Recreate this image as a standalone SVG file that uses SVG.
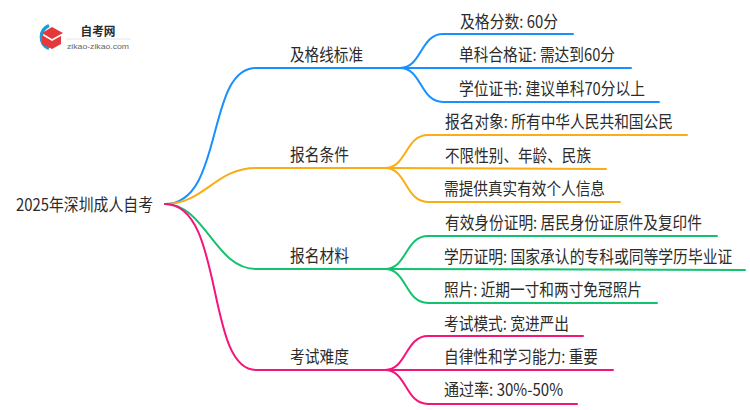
<svg xmlns="http://www.w3.org/2000/svg" width="750" height="410" viewBox="0 0 750 410">
<style>
text{font-family:"Noto Sans CJK SC","Liberation Sans",sans-serif;font-size:17px;fill:#2b2b2b}
.c{fill:none;stroke-width:2;stroke-linecap:round}
.b{stroke:#1890ff}.o{stroke:#faad14}.g{stroke:#13c26f}.p{stroke:#f5147a}
</style>
<rect width="750" height="410" fill="#fff"/>
<g id="logo">
<path d="M49 25.500A12.500 12.500 0 0 0 49 48.500" fill="none" stroke="#1a9ad6" stroke-width="3.500"/>
<path d="M52 27L63 33L52 39L42 33Z" fill="#e5383b"/>
<path d="M42 35L52 41L61 36V44L52 49L42 44Z" fill="#e5383b"/>
<text x="80.500" y="36" textLength="35" lengthAdjust="spacingAndGlyphs" style="font-size:12px;font-weight:700">自考网</text>
<path d="M66 39H131" stroke="#e6e6e6" stroke-width="1"/>
<text x="67" y="49" textLength="62" lengthAdjust="spacingAndGlyphs" style="font-family:'Liberation Sans',sans-serif;font-size:8px;fill:#666">zikao-zikao.com</text>
</g>
<g id="connectors">
<path class="c b" d="M165 204C225 204 205 68 256 68H400"/>
<path class="c o" d="M165 204C205 204 215 168 256 168H385"/>
<path class="c g" d="M165 204C205 204 215 269 256 269H385"/>
<path class="c p" d="M165 204C225 204 205 370 256 370H385"/>
<path class="c b" d="M400 68C422 68 420 34 443 34H573"/>
<path class="c b" d="M400 68H631"/>
<path class="c b" d="M400 68C422 68 420 102 443 102H659"/>
<path class="c o" d="M385 168C407 168 405 135 428 135H687"/>
<path class="c o" d="M385 168L606 169"/>
<path class="c o" d="M385 168C407 168 405 202 428 202H620"/>
<path class="c g" d="M385 269C407 269 405 236 428 236H717"/>
<path class="c g" d="M385 269L745 270"/>
<path class="c g" d="M385 269C407 269 405 303 428 303H657"/>
<path class="c p" d="M385 370C407 370 405 336 428 336H583"/>
<path class="c p" d="M385 370H613"/>
<path class="c p" d="M385 370C407 370 405 404 428 404H577"/>
</g>
<g id="root"><text x="16" y="211" textLength="137" lengthAdjust="spacingAndGlyphs">2025年深圳成人自考</text></g>
<g id="n1"><text x="290" y="61" textLength="73" lengthAdjust="spacingAndGlyphs">及格线标准</text></g>
<g id="n2"><text x="290" y="161" textLength="59" lengthAdjust="spacingAndGlyphs">报名条件</text></g>
<g id="n3"><text x="290" y="262" textLength="59" lengthAdjust="spacingAndGlyphs">报名材料</text></g>
<g id="n4"><text x="290" y="363" textLength="59" lengthAdjust="spacingAndGlyphs">考试难度</text></g>
<g id="n1a"><text x="460" y="28" textLength="98" lengthAdjust="spacingAndGlyphs">及格分数: 60分</text></g>
<g id="n1b"><text x="459" y="61" textLength="156" lengthAdjust="spacingAndGlyphs">单科合格证: 需达到60分</text></g>
<g id="n1c"><text x="459" y="95" textLength="186" lengthAdjust="spacingAndGlyphs">学位证书: 建议单科70分以上</text></g>
<g id="n2a"><text x="445" y="128" textLength="228" lengthAdjust="spacingAndGlyphs">报名对象: 所有中华人民共和国公民</text></g>
<g id="n2b"><text x="445" y="162" textLength="146" lengthAdjust="spacingAndGlyphs">不限性别、年龄、民族</text></g>
<g id="n2c"><text x="444" y="195" textLength="161" lengthAdjust="spacingAndGlyphs">需提供真实有效个人信息</text></g>
<g id="n3a"><text x="445" y="229" textLength="257" lengthAdjust="spacingAndGlyphs">有效身份证明: 居民身份证原件及复印件</text></g>
<g id="n3b"><text transform="translate(444 263) scale(.87 1)">学历证明: 国家承认的专科或同等学历毕业证</text></g>
<g id="n3c"><text x="444" y="296" textLength="198" lengthAdjust="spacingAndGlyphs">照片: 近期一寸和两寸免冠照片</text></g>
<g id="n4a"><text x="444" y="330" textLength="125" lengthAdjust="spacingAndGlyphs">考试模式: 宽进严出</text></g>
<g id="n4b"><text x="444" y="363" textLength="154" lengthAdjust="spacingAndGlyphs">自律性和学习能力: 重要</text></g>
<g id="n4c"><text x="444" y="396" textLength="119" lengthAdjust="spacingAndGlyphs">通过率: 30%-50%</text></g>
</svg>
